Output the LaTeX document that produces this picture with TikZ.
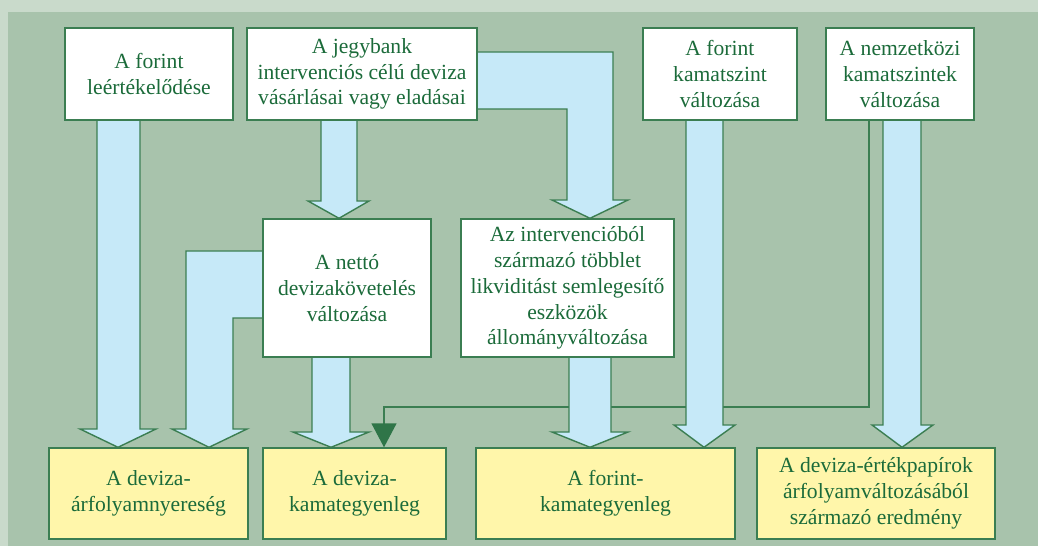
\documentclass[tikz,border=0pt]{standalone}
\usepackage{fontspec}
\setmainfont{Liberation Serif}
\usetikzlibrary{arrows.meta,calc}
\pgfdeclarelayer{bg}
\pgfsetlayers{bg,main}
\definecolor{framecol}{HTML}{C9DACB}
\definecolor{panelcol}{HTML}{A8C3AC}
\definecolor{boxline}{HTML}{3B7E52}
\definecolor{txtcol}{HTML}{1B6B3A}
\definecolor{flowfill}{HTML}{C6E9F8}
\definecolor{resfill}{HTML}{FFF6AA}
\definecolor{tipcol}{HTML}{2F7548}

\begin{document}
\begin{tikzpicture}[
    x=0.02cm, y=-0.02cm,
    box/.style={rectangle, draw=boxline, line width=0.8pt, text=txtcol, align=center, inner sep=0pt, font=\fontsize{12.3}{14.7}\selectfont},
    cause/.style={box, fill=white, minimum height=1.84cm},
    mid/.style={box, fill=white, minimum height=2.76cm},
    result/.style={box, fill=resfill, minimum height=1.82cm},
    flow/.style={draw=boxline, line width=0.8pt, fill=flowfill, line join=miter}
]
\useasboundingbox (0,0) rectangle (1038,546);

% Top row
\node[cause, minimum width=3.36cm] (leert) at (149,74) {A forint\\leértékelődése};
\node[cause, minimum width=4.60cm] (interv) at (362,74) {A jegybank\\intervenciós célú deviza\\vásárlásai vagy eladásai};
\node[cause, minimum width=3.08cm] (ftkamat) at (720,74) {A forint\\kamatszint\\változása};
\node[cause, minimum width=2.96cm] (nkamat) at (900,74) {A nemzetközi\\kamatszintek\\változása};

% Middle row
\node[mid, minimum width=3.36cm] (netto) at (347,288) {A nettó\\devizakövetelés\\változása};
\node[mid, minimum width=4.26cm] (semleg) at (567.5,288) {Az intervencióból\\származó többlet\\likviditást semlegesítő\\eszközök\\állományváltozása};

% Bottom row
\node[result, minimum width=3.98cm] (arfny) at (148.5,493.5) {A deviza-\\árfolyamnyereség};
\node[result, minimum width=3.66cm] (devkam) at (354.5,493.5) {A deviza-\\kamategyenleg};
\node[result, minimum width=5.18cm] (ftkam) at (605.5,493.5) {A forint-\\kamategyenleg};
\node[result, minimum width=4.76cm] (ertpap) at (876,493.5) {A deviza-értékpapírok\\árfolyamváltozásából\\származó eredmény};

\begin{pgfonlayer}{bg}
% Background
\fill[framecol] (0,0) rectangle (1038,546);
\fill[panelcol] (8,12) rectangle (1038,546);

% Thin line
\draw[boxline, line width=0.8pt, -{Triangle[width=0.5cm,length=0.48cm,color=tipcol]}]
    (nkamat.south -| 869,0) -- (869,407) -- (384,407) -- (devkam.north -| 384,0);

% Arrows
\draw[flow] (leert.south -| 97,0) -- (97,429) -- (80,429) -- (arfny.north -| 118,0) -- (156,429) -- (140,429) -- (leert.south -| 140,0);
\draw[flow] (netto.west |- 0,251) -- (186,251) -- (186,429) -- (172,429) -- (arfny.north -| 209,0) -- (247,429) -- (233,429) -- (233,318) -- (netto.west |- 0,318);
\draw[flow] (interv.south -| 321,0) -- (321,201) -- (308,201) -- (netto.north -| 339,0) -- (369,201) -- (357,201) -- (interv.south -| 357,0);
\draw[flow] (interv.east |- 0,52) -- (613,52) -- (613,200) -- (628,200) -- (semleg.north -| 590,0) -- (552,200) -- (567,200) -- (567,109) -- (interv.east |- 0,109);
\draw[flow] (netto.south -| 312,0) -- (312,432) -- (293,432) -- (devkam.north -| 331,0) -- (369,432) -- (350,432) -- (netto.south -| 350,0);
\draw[flow] (semleg.south -| 569,0) -- (569,432) -- (552,432) -- (ftkam.north -| 590,0) -- (628,432) -- (611,432) -- (semleg.south -| 611,0);
\draw[flow] (ftkamat.south -| 686,0) -- (686,425) -- (674,425) -- (ftkam.north -| 704,0) -- (735,425) -- (723,425) -- (ftkamat.south -| 723,0);
\draw[flow] (nkamat.south -| 883,0) -- (883,425) -- (872,425) -- (ertpap.north -| 902,0) -- (933,425) -- (921,425) -- (nkamat.south -| 921,0);
\end{pgfonlayer}

\end{tikzpicture}
\end{document}
